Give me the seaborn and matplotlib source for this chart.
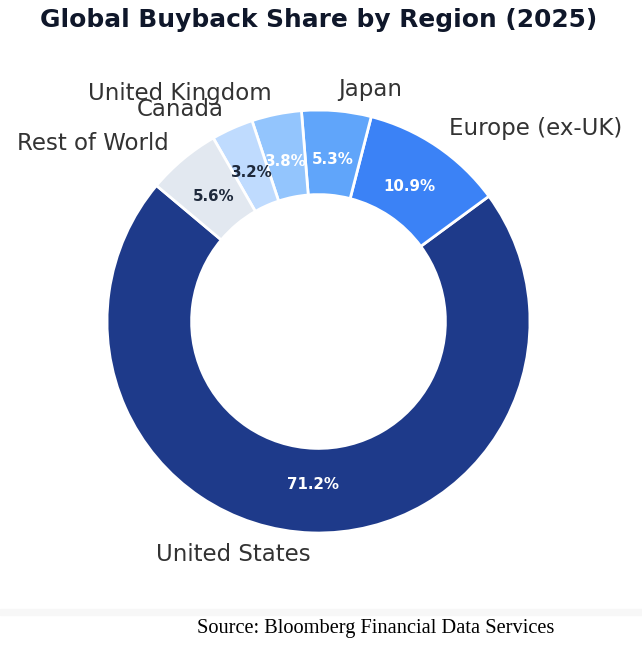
import matplotlib
matplotlib.use("Agg")
import matplotlib.pyplot as plt
import seaborn as sns

# data
regions = ["United States", "Europe (ex-UK)", "Japan", "United Kingdom", "Canada", "Rest of World"]
shares = [71.2, 10.9, 5.3, 3.8, 3.2, 5.6]
colors = ["#1e3a8a", "#3b82f6", "#60a5fa", "#93c5fd", "#bfdbfe", "#e2e8f0"]
pct_colors = ["white", "white", "white", "white", "#1e293b", "#1e293b"]

sns.set_theme(style="white")
plt.rcParams['font.family'] = ['DejaVu Sans']

W, H = 642, 646
fig = plt.figure(figsize=(W / 100, H / 100), dpi=100)

# place donut: centre (318.5, 321.5) px, radius 211.5 px
r_px = 211.5
cx, cy = 318.5, H - 321.5
half = 1.5
side = 2 * half * r_px
ax = fig.add_axes([(cx - side / 2) / W, (cy - side / 2) / H, side / W, side / H])

wedges, texts, autotexts = ax.pie(
    shares,
    labels=regions,
    colors=colors,
    startangle=140,
    counterclock=True,
    autopct="%.1f%%",
    pctdistance=0.77,
    labeldistance=1.1,
    wedgeprops=dict(width=0.4, edgecolor="white", linewidth=2),
    textprops=dict(fontsize=16.5, color="#333333"),
)
for t, c in zip(autotexts, pct_colors):
    t.set_color(c)
    t.set_fontsize(10.8)
    t.set_fontweight("bold")

ax.set_xlim(-half, half)
ax.set_ylim(-half, half)
ax.axis("off")

fig.text(0.5 - 0.003, 1 - 20 / H, "Global Buyback Share by Region (2025)",
         ha="center", va="center", fontsize=17.9, fontweight="bold", color="#0f172a")

# faint band above the source line
fig.patches.append(plt.Rectangle((0, 1 - 615 / H), 1, 6 / H, transform=fig.transFigure,
                                 color="#f7f7f7", zorder=0))
fig.text(197 / W, 1 - 629 / H, "Source: Bloomberg Financial Data Services",
         ha="left", va="center", fontsize=14.7, family=["Liberation Serif"], color="black")

fig.savefig("out.png", dpi=100, facecolor="white")
